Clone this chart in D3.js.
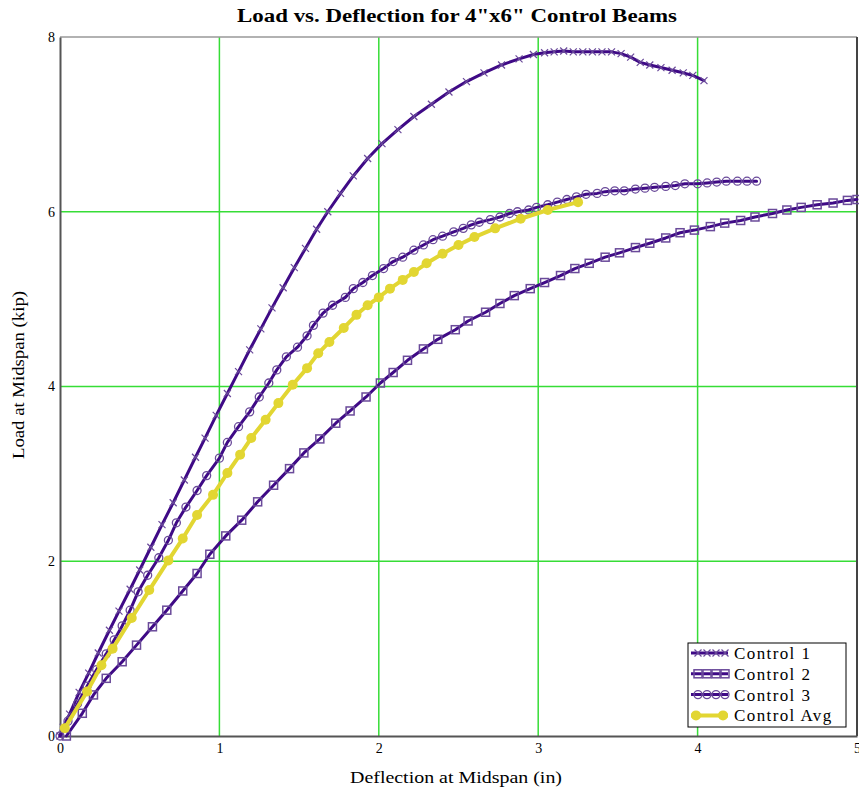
<!DOCTYPE html>
<html>
<head>
<meta charset="utf-8">
<script src="https://cdn.jsdelivr.net/npm/d3@7/dist/d3.min.js"></script>
<style>
  html, body { margin: 0; padding: 0; background: #fff; }
  svg { display: block; }
  text { font-family: "Liberation Serif", "Times New Roman", serif; fill: #000; }
</style>
</head>
<body>
<svg id="chart" width="859" height="791"></svg>
<script>
// Deflection (in) and load (kip) readings for each beam
const ctrl1X = [0, 0.02, 0.06, 0.12, 0.18, 0.24, 0.31, 0.37, 0.44, 0.50, 0.57, 0.64, 0.71, 0.78, 0.85, 0.91, 0.98, 1.05, 1.12, 1.19, 1.26, 1.33, 1.40, 1.47, 1.54, 1.61, 1.68, 1.76, 1.84, 1.93, 2.02, 2.12, 2.22, 2.33, 2.44, 2.55, 2.66, 2.77, 2.88, 2.97, 3.04, 3.10, 3.16, 3.22, 3.28, 3.34, 3.40, 3.46, 3.52, 3.58, 3.64, 3.70, 3.77, 3.84, 3.91, 3.97, 4.04];
const ctrl1Y = [0, 0.10, 0.25, 0.50, 0.72, 0.95, 1.21, 1.43, 1.68, 1.90, 2.16, 2.42, 2.67, 2.93, 3.19, 3.41, 3.67, 3.92, 4.17, 4.42, 4.66, 4.90, 5.13, 5.36, 5.58, 5.80, 6.00, 6.21, 6.41, 6.61, 6.78, 6.94, 7.09, 7.23, 7.37, 7.49, 7.59, 7.68, 7.75, 7.80, 7.82, 7.83, 7.84, 7.83, 7.83, 7.83, 7.83, 7.83, 7.81, 7.77, 7.71, 7.68, 7.65, 7.62, 7.59, 7.56, 7.50];

const ctrl2X = [0.04, 0.14, 0.21, 0.29, 0.39, 0.48, 0.58, 0.67, 0.77, 0.86, 0.94, 1.04, 1.14, 1.24, 1.34, 1.44, 1.53, 1.63, 1.73, 1.82, 1.92, 2.01, 2.09, 2.18, 2.28, 2.37, 2.48, 2.56, 2.67, 2.76, 2.85, 2.95, 3.04, 3.14, 3.23, 3.32, 3.42, 3.51, 3.61, 3.70, 3.80, 3.89, 3.98, 4.08, 4.17, 4.27, 4.36, 4.47, 4.56, 4.65, 4.75, 4.85, 4.94, 5.00];
const ctrl2Y = [0, 0.26, 0.47, 0.66, 0.85, 1.04, 1.25, 1.44, 1.66, 1.86, 2.08, 2.29, 2.47, 2.68, 2.87, 3.06, 3.24, 3.40, 3.58, 3.72, 3.88, 4.04, 4.16, 4.30, 4.43, 4.54, 4.65, 4.75, 4.85, 4.95, 5.04, 5.12, 5.19, 5.27, 5.35, 5.41, 5.48, 5.53, 5.59, 5.64, 5.70, 5.76, 5.79, 5.83, 5.87, 5.90, 5.94, 5.98, 6.02, 6.05, 6.08, 6.10, 6.13, 6.14];

const ctrl3X = [0, 0.05, 0.11, 0.17, 0.23, 0.29, 0.34, 0.39, 0.44, 0.49, 0.55, 0.62, 0.68, 0.73, 0.79, 0.86, 0.92, 1.00, 1.05, 1.12, 1.19, 1.25, 1.31, 1.36, 1.42, 1.49, 1.55, 1.59, 1.65, 1.71, 1.79, 1.84, 1.90, 1.96, 2.03, 2.09, 2.15, 2.22, 2.28, 2.34, 2.40, 2.47, 2.53, 2.58, 2.63, 2.70, 2.76, 2.82, 2.87, 2.94, 2.99, 3.06, 3.12, 3.18, 3.24, 3.30, 3.37, 3.42, 3.48, 3.54, 3.61, 3.67, 3.73, 3.80, 3.86, 3.92, 4.00, 4.06, 4.12, 4.18, 4.25, 4.31, 4.37];
const ctrl3Y = [0, 0.17, 0.37, 0.57, 0.76, 0.94, 1.10, 1.26, 1.44, 1.65, 1.84, 2.04, 2.24, 2.44, 2.62, 2.81, 2.98, 3.18, 3.36, 3.54, 3.71, 3.88, 4.04, 4.19, 4.34, 4.45, 4.58, 4.70, 4.84, 4.93, 5.02, 5.12, 5.19, 5.27, 5.35, 5.43, 5.48, 5.56, 5.62, 5.68, 5.72, 5.77, 5.81, 5.85, 5.88, 5.91, 5.94, 5.98, 6.00, 6.02, 6.05, 6.08, 6.11, 6.14, 6.17, 6.20, 6.21, 6.23, 6.24, 6.24, 6.26, 6.27, 6.28, 6.29, 6.30, 6.32, 6.32, 6.33, 6.34, 6.35, 6.35, 6.35, 6.35];

const avgX = [0.03, 0.17, 0.26, 0.33, 0.45, 0.56, 0.68, 0.77, 0.86, 0.96, 1.05, 1.13, 1.20, 1.29, 1.37, 1.46, 1.55, 1.62, 1.69, 1.78, 1.86, 1.93, 2.00, 2.07, 2.15, 2.22, 2.30, 2.40, 2.50, 2.60, 2.73, 2.89, 3.06, 3.25];
const avgY = [0.09, 0.51, 0.81, 1.00, 1.35, 1.67, 2.01, 2.26, 2.53, 2.76, 3.01, 3.22, 3.41, 3.62, 3.81, 4.02, 4.21, 4.38, 4.51, 4.67, 4.82, 4.93, 5.02, 5.12, 5.22, 5.31, 5.41, 5.52, 5.62, 5.71, 5.81, 5.92, 6.02, 6.11];

const xTicks = [0, 1, 2, 3, 4, 5];
const yTicks = [0, 2, 4, 6, 8];
const seriesNames = ["Control 1", "Control 2", "Control 3", "Control Avg"];

const title = "Load vs. Deflection for 4\"x6\" Control Beams";
const xTitle = "Deflection at Midspan (in)";
const yTitle = "Load at Midspan (kip)";

const purple = "#3f0a86";
const markPurple = "#6a4a9a";
const yellow = "#e2d632";
const gridGreen = "#36dd36";

const svg = d3.select("#chart");
const m = { left: 60, right: 857, top: 37, bottom: 736 };

const x = d3.scaleLinear().domain([0, 5]).range([m.left, m.right]);
const y = d3.scaleLinear().domain([0, 8]).range([m.bottom, m.top]);

// grid lines
const grid = svg.append("g");
grid.selectAll("line.vx").data(xTicks.filter(d => d > 0 && d < 5)).join("line")
  .attr("x1", d => x(d)).attr("x2", d => x(d))
  .attr("y1", m.top).attr("y2", m.bottom)
  .attr("stroke", gridGreen).attr("stroke-width", 1.5);
grid.selectAll("line.hy").data(yTicks.filter(d => d > 0 && d < 8)).join("line")
  .attr("x1", m.left).attr("x2", m.right)
  .attr("y1", d => y(d)).attr("y2", d => y(d))
  .attr("stroke", gridGreen).attr("stroke-width", 1.5);

// frame
svg.append("line").attr("x1", m.left).attr("x2", m.right).attr("y1", m.top).attr("y2", m.top)
  .attr("stroke", "#999").attr("stroke-width", 1.5);
svg.append("line").attr("x1", m.right).attr("x2", m.right).attr("y1", m.top).attr("y2", m.bottom)
  .attr("stroke", "#444").attr("stroke-width", 2);

// axes
const xAxis = d3.axisBottom(x).tickValues(xTicks).tickSize(0).tickPadding(7).tickFormat(d3.format("d"));
const yAxis = d3.axisLeft(y).tickValues(yTicks).tickSize(0).tickPadding(5).tickFormat(d3.format("d"));
const gx = svg.append("g").attr("transform", `translate(0,${m.bottom})`).call(xAxis);
const gy = svg.append("g").attr("transform", `translate(${m.left},0)`).call(yAxis);
[gx, gy].forEach(g => {
  g.select(".domain").attr("stroke", "#555").attr("stroke-width", 2);
  g.selectAll("text").style("font-family", "'Liberation Serif', serif").style("font-size", "14px").attr("fill", "#000");
});

// series
const toPts = (xs, ys) => xs.map((v, i) => [v, ys[i]]);
const series = [
  { name: seriesNames[0], pts: toPts(ctrl1X, ctrl1Y), color: purple, width: 3, mark: "x" },
  { name: seriesNames[1], pts: toPts(ctrl2X, ctrl2Y), color: purple, width: 3, mark: "square" },
  { name: seriesNames[2], pts: toPts(ctrl3X, ctrl3Y), color: purple, width: 3, mark: "circle" },
  { name: seriesNames[3], pts: toPts(avgX, avgY), color: yellow, width: 4, mark: "dot" }
];

const line = d3.line().x(d => x(d[0])).y(d => y(d[1]));

function drawMark(g, kind, px, py) {
  if (kind === "x") {
    g.append("path").attr("d", `M${px-3.5},${py-3.5}L${px+3.5},${py+3.5}M${px-3.5},${py+3.5}L${px+3.5},${py-3.5}`)
      .attr("stroke", markPurple).attr("stroke-width", 1.2).attr("fill", "none");
  } else if (kind === "square") {
    g.append("rect").attr("x", px - 4).attr("y", py - 4).attr("width", 8).attr("height", 8)
      .attr("fill", "none").attr("stroke", markPurple).attr("stroke-width", 1.5);
  } else if (kind === "circle") {
    g.append("circle").attr("cx", px).attr("cy", py).attr("r", 4)
      .attr("fill", "none").attr("stroke", markPurple).attr("stroke-width", 1.3);
  } else if (kind === "dot") {
    g.append("circle").attr("cx", px).attr("cy", py).attr("r", 5).attr("fill", yellow);
  }
}

series.forEach(s => {
  const g = svg.append("g");
  g.append("path").datum(s.pts).attr("d", line)
    .attr("fill", "none").attr("stroke", s.color).attr("stroke-width", s.width)
    .attr("stroke-linejoin", "round").attr("stroke-linecap", "round");
  s.pts.forEach(p => drawMark(g, s.mark, x(p[0]), y(p[1])));
});

// legend
const lg = svg.append("g").attr("transform", "translate(688,643)");
lg.append("rect").attr("width", 158).attr("height", 84).attr("fill", "#fff")
  .attr("stroke", "#000").attr("stroke-width", 1);
series.forEach((s, i) => {
  const cy = 10 + i * 20.8;
  lg.append("line").attr("x1", 3).attr("x2", 40).attr("y1", cy).attr("y2", cy)
    .attr("stroke", s.color).attr("stroke-width", s.width);
  const n = s.mark === "dot" ? [8, 35] : [10, 19, 28, 37];
  n.forEach(px => drawMark(lg, s.mark, px, cy));
  lg.append("text").attr("x", 46).attr("y", cy + 6)
    .style("font-size", "17px").style("letter-spacing", "1.4px").text(s.name);
});

// titles
svg.append("text").attr("x", 457).attr("y", 22).attr("text-anchor", "middle")
  .attr("textLength", 440).attr("lengthAdjust", "spacingAndGlyphs")
  .style("font-size", "18px").style("font-weight", "bold").text(title);
svg.append("text").attr("x", 456).attr("y", 783).attr("text-anchor", "middle")
  .attr("textLength", 212).attr("lengthAdjust", "spacingAndGlyphs")
  .style("font-size", "17px").text(xTitle);
svg.append("text").attr("transform", "translate(24,375) rotate(-90)").attr("text-anchor", "middle")
  .attr("textLength", 168).attr("lengthAdjust", "spacingAndGlyphs")
  .style("font-size", "16px").text(yTitle);
</script>
</body>
</html>
